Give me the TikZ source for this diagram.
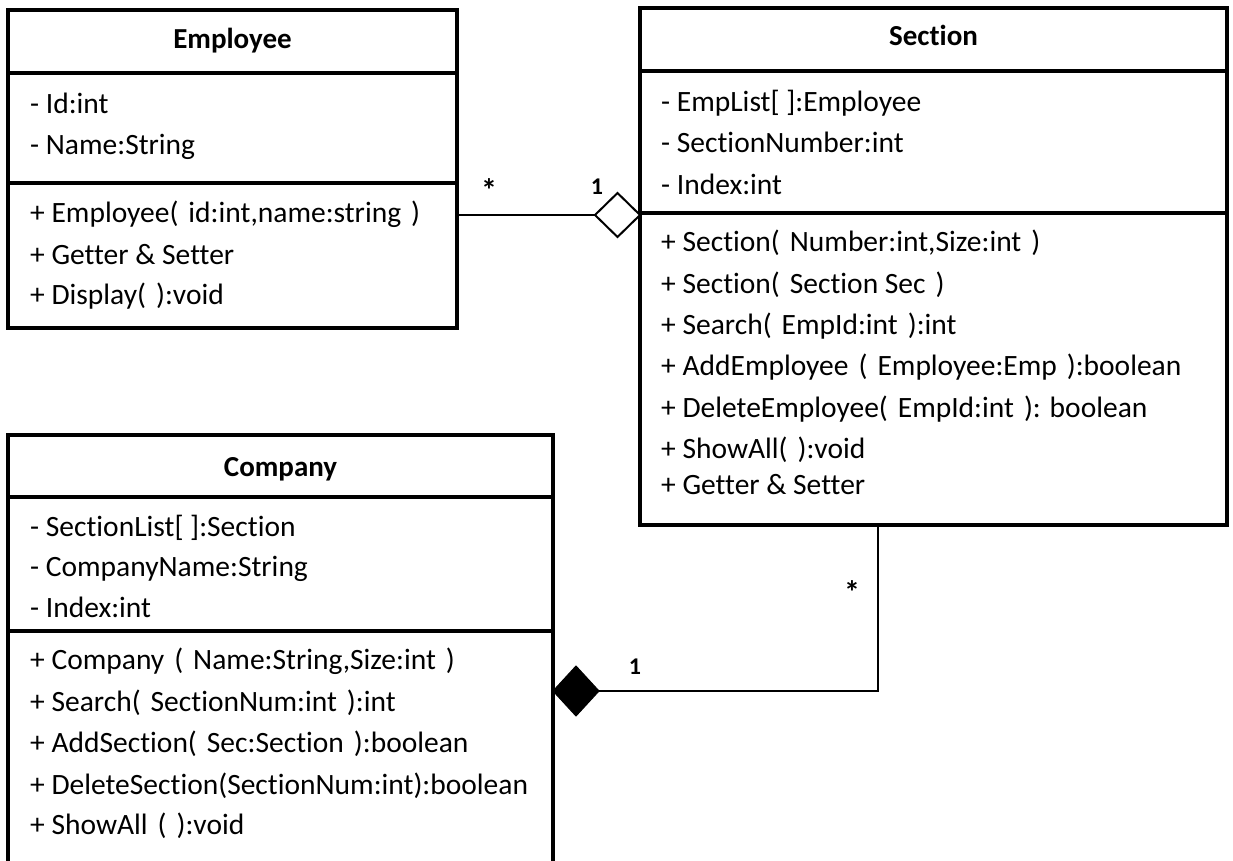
\documentclass[tikz,border=0pt]{standalone}
\usepackage{fontspec}
\setmainfont{Carlito}[Ligatures={NoCommon}]
\usetikzlibrary{shapes.geometric}
\newcommand\ps{\hspace{10pt}}
\begin{document}
\begin{tikzpicture}[x=1pt,y=-1pt,
  cls/.style={draw, line width=3.5pt, inner sep=0pt, outer sep=0pt, anchor=north west, rectangle},
  divider/.style={line width=3.5pt},
  conn/.style={line width=2pt},
  tx/.style={anchor=base west, inner sep=0pt, font=\fontsize{29.5}{35}\selectfont},
  ttl/.style={anchor=base, inner sep=0pt, font=\fontsize{29}{35}\selectfont\bfseries},
  mult/.style={anchor=center, inner sep=0pt, font=\fontsize{24}{28}\selectfont\bfseries},
  star/.style={anchor=center, inner sep=0pt, font=\fontsize{32}{36}\selectfont\bfseries},
  agg/.style={diamond, draw, line width=2pt, inner sep=0pt, outer sep=0pt, minimum width=45pt, minimum height=44pt, fill=white},
  comp/.style={diamond, draw, fill=black, line width=1pt, inner sep=0pt, outer sep=0pt, minimum width=46pt, minimum height=50pt}]
\useasboundingbox (0,0) rectangle (1233,861);
\clip (0,0) rectangle (1233,861);
\fill[white] (0,0) rectangle (1233,861);

% Employee
\node[cls, minimum width=449pt, minimum height=318pt] (emp) at (8,10) {};
\draw[divider] (8,73) coordinate (e1a) -- (457,73) coordinate (e1b);
\draw[divider] (8,183) coordinate (e2a) -- (457,183) coordinate (e2b);
\node[ttl] (empT) at (232.5,49) {Employee};
\node[tx] (empA1) at (30,114) {- Id:int};
\node[tx] (empA2) at (30,155) {- Name:String};
\node[tx] (empM1) at (30,222) {+ Employee(\ps id:int,name:string\ps)};
\node[tx] (empM2) at (30,264) {+ Getter \& Setter};
\node[tx] (empM3) at (30,304) {+ Display(\ps):void};

% Section
\node[cls, minimum width=587pt, minimum height=517pt] (sec) at (640,8) {};
\draw[divider] (640,71) coordinate (s1a) -- (1227,71) coordinate (s1b);
\draw[divider] (640,213) coordinate (s2a) -- (1227,213) coordinate (s2b);
\node[ttl] (secT) at (933.5,46) {Section};
\node[tx] (secA1) at (661,112) {- EmpList[ ]:Employee};
\node[tx] (secA2) at (661,153) {- SectionNumber:int};
\node[tx] (secA3) at (661,194) {- Index:int};
\node[tx] (secM1) at (661,251) {+ Section(\ps Number:int,Size:int\ps)};
\node[tx] (secM2) at (661,293) {+ Section(\ps Section Sec\ps)};
\node[tx] (secM3) at (661,334) {+ Search(\ps EmpId:int\ps):int};
\node[tx] (secM4) at (661,375) {+ AddEmployee\ps(\ps Employee:Emp\ps):boolean};
\node[tx] (secM5) at (661,417) {+ DeleteEmployee(\ps EmpId:int\ps): boolean};
\node[tx] (secM6) at (661,458) {+ ShowAll(\ps):void};
\node[tx] (secM7) at (661,494) {+ Getter \& Setter};

% Company (bottom runs off the page)
\node[cls, minimum width=545pt, minimum height=480pt] (com) at (8,435) {};
\draw[divider] (8,497) coordinate (c1a) -- (553,497) coordinate (c1b);
\draw[divider] (8,631) coordinate (c2a) -- (553,631) coordinate (c2b);
\node[ttl] (comT) at (280.5,476) {Company};
\node[tx] (comA1) at (30,536) {- SectionList[ ]:Section};
\node[tx] (comA2) at (30,576) {- CompanyName:String};
\node[tx] (comA3) at (30,617) {- Index:int};
\node[tx] (comM1) at (30,669) {+ Company\ps(\ps Name:String,Size:int\ps)};
\node[tx] (comM2) at (30,711) {+ Search(\ps SectionNum:int\ps):int};
\node[tx] (comM3) at (30,752) {+ AddSection(\ps Sec:Section\ps):boolean};
\node[tx] (comM4) at (30,794) {+ DeleteSection(SectionNum:int):boolean};
\node[tx] (comM5) at (30,834) {+ ShowAll\ps(\ps):void};

% Aggregation Employee -- Section
\node[agg] (aggD) at (617.5,215) {};
\draw[conn] (aggD.west) -- (aggD.west -| emp.east);
\node[star] (m1) at (489,190) {*};
\node[mult] (m2) at (597,187) {1};

% Composition Section -- Company
\node[comp] (compD) at (576,691) {};
\coordinate (secBot) at (878,525);
\draw[conn] (compD.east) -| (secBot);
\node[mult] (m3) at (635,667) {1};
\node[star] (m4) at (852,592) {*};
\end{tikzpicture}
\end{document}
